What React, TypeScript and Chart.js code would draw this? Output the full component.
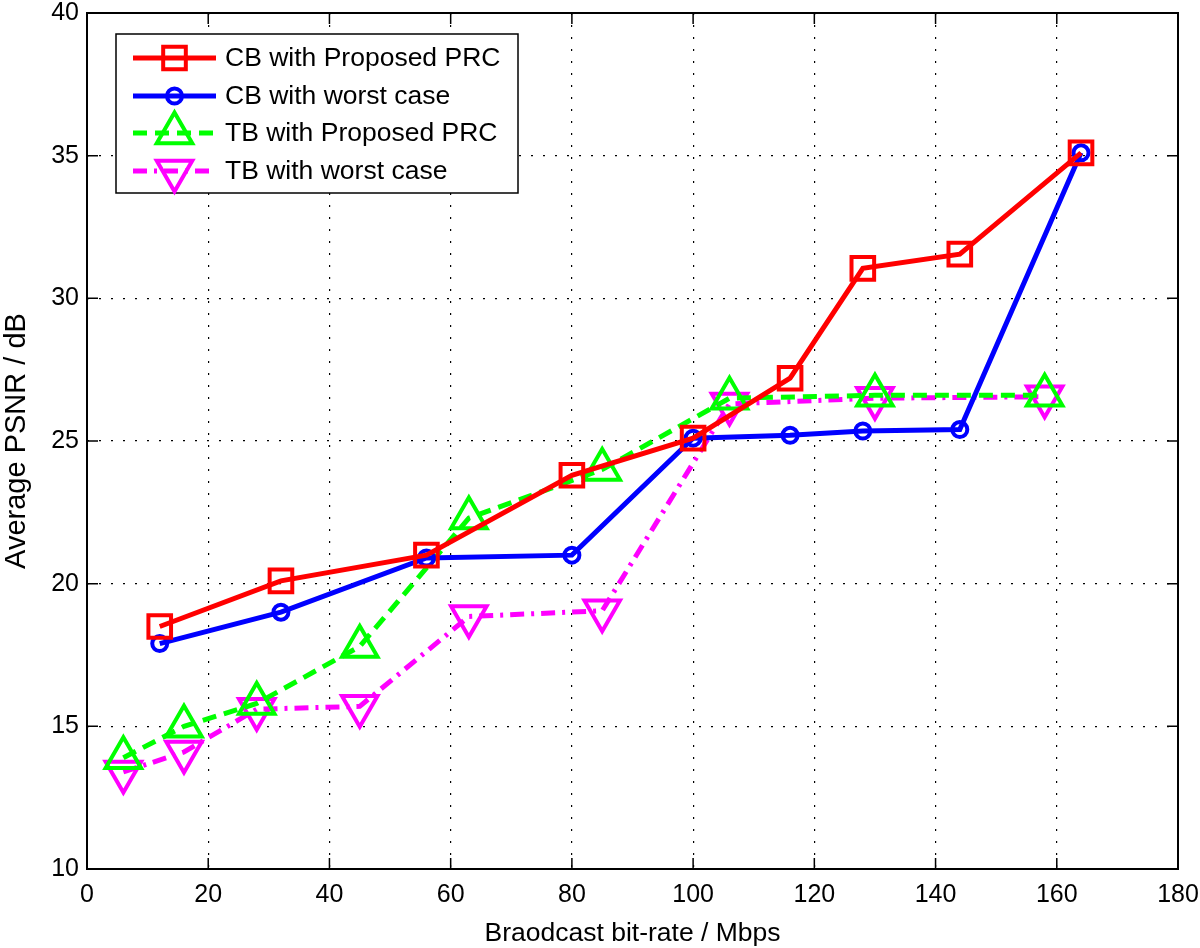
import React, { useEffect, useRef } from "react";
import { Chart, registerables } from "chart.js";

Chart.register(...registerables);

// ---- data ----
const cbProposedX = [12, 32, 56, 80, 100, 116, 128, 144, 164];
const cbProposedY = [18.5, 20.1, 21.0, 23.8, 25.1, 27.2, 31.05, 31.55, 35.1];
const cbWorstX = [12, 32, 56, 80, 100, 116, 128, 144, 164];
const cbWorstY = [17.9, 19.0, 20.9, 21.0, 25.1, 25.2, 25.35, 25.4, 35.1];
const tbProposedX = [6, 16, 28, 45, 63, 85, 106, 130, 158];
const tbProposedY = [13.9, 15.0, 15.8, 17.8, 22.3, 24.0, 26.5, 26.6, 26.6];
const tbWorstX = [6, 16, 28, 45, 63, 85, 106, 130, 158];
const tbWorstY = [13.4, 14.1, 15.6, 15.7, 18.85, 19.05, 26.3, 26.5, 26.55];

const seriesLabels = [
  "CB with Proposed PRC",
  "CB with worst case",
  "TB with Proposed PRC",
  "TB with worst case",
];
const xTicks = [0, 20, 40, 60, 80, 100, 120, 140, 160, 180];
const yTicks = [10, 15, 20, 25, 30, 35, 40];
const xTitle = "Braodcast bit-rate / Mbps";
const yTitle = "Average PSNR / dB";

const FONT = "'Liberation Sans', Arial, Helvetica, sans-serif";
const TICK_FS = 25;
const LEGEND_FS = 26.5;
const XTITLE_FS = 26.5;
const YTITLE_FS = 29;

const toPoints = (xs: number[], ys: number[]) => xs.map((x, i) => ({ x, y: ys[i] }));

function drawMarker(ctx: CanvasRenderingContext2D, style: string, rotation: number, r: number, x: number, y: number) {
  ctx.beginPath();
  if (style === "rect") {
    const s = r * Math.SQRT1_2;
    ctx.rect(x - s, y - s, 2 * s, 2 * s);
  } else if (style === "circle") {
    ctx.arc(x, y, r, 0, Math.PI * 2);
  } else if (style === "triangle") {
    let rad = (rotation * Math.PI) / 180;
    ctx.moveTo(x + Math.sin(rad) * r, y - Math.cos(rad) * r);
    rad += (2 * Math.PI) / 3;
    ctx.lineTo(x + Math.sin(rad) * r, y - Math.cos(rad) * r);
    rad += (2 * Math.PI) / 3;
    ctx.lineTo(x + Math.sin(rad) * r, y - Math.cos(rad) * r);
    ctx.closePath();
  }
  ctx.stroke();
}

const frameAndLegend = {
  id: "frameAndLegend",
  afterDraw(chart: any) {
    const ctx: CanvasRenderingContext2D = chart.ctx;
    const { left, right, top, bottom } = chart.chartArea;
    const xs = chart.scales.x;
    const ys = chart.scales.y;
    ctx.save();
    ctx.strokeStyle = "#000";
    ctx.lineWidth = 1.5;
    ctx.setLineDash([]);
    const tl = 11;
    ctx.beginPath();
    xTicks.forEach((v) => {
      const px = xs.getPixelForValue(v);
      ctx.moveTo(px, bottom);
      ctx.lineTo(px, bottom - tl);
      ctx.moveTo(px, top);
      ctx.lineTo(px, top + tl);
    });
    yTicks.forEach((v) => {
      const py = ys.getPixelForValue(v);
      ctx.moveTo(left, py);
      ctx.lineTo(left + tl, py);
      ctx.moveTo(right, py);
      ctx.lineTo(right - tl, py);
    });
    ctx.stroke();
    ctx.lineWidth = 2;
    ctx.strokeRect(left, top, right - left, bottom - top);

    // legend
    const bx = 116, by = 34, bw = 402, bh = 159;
    ctx.fillStyle = "#fff";
    ctx.fillRect(bx, by, bw, bh);
    ctx.lineWidth = 1.5;
    ctx.strokeStyle = "#000";
    ctx.strokeRect(bx, by, bw, bh);
    const rows = [58, 96, 133, 171];
    chart.data.datasets.forEach((ds: any, i: number) => {
      const y = rows[i];
      ctx.strokeStyle = ds.borderColor;
      ctx.lineWidth = ds.borderWidth;
      ctx.setLineDash(ds.borderDash || []);
      ctx.beginPath();
      ctx.moveTo(133, y);
      ctx.lineTo(216, y);
      ctx.stroke();
      ctx.setLineDash([]);
      ctx.lineWidth = ds.pointBorderWidth;
      drawMarker(ctx, ds.pointStyle, ds.pointRotation || 0, ds.pointRadius, 174.5, y);
      ctx.fillStyle = "#000";
      ctx.font = `${LEGEND_FS}px ${FONT}`;
      ctx.textAlign = "left";
      ctx.textBaseline = "middle";
      ctx.fillText(ds.label, 225, y + 1);
    });
    ctx.restore();
  },
};

export default function App() {
  const ref = useRef<HTMLCanvasElement | null>(null);
  useEffect(() => {
    document.body.style.margin = "0";
    const canvas = ref.current;
    if (!canvas) return;
    const chart = new Chart(canvas, {
      type: "line",
      data: {
        datasets: [
          {
            label: seriesLabels[0],
            data: toPoints(cbProposedX, cbProposedY),
            borderColor: "#ff0000",
            borderWidth: 5,
            pointStyle: "rect",
            pointRadius: 16,
            pointBorderWidth: 4,
            pointBorderColor: "#ff0000",
            pointBackgroundColor: "rgba(0,0,0,0)",
            fill: false,
          },
          {
            label: seriesLabels[1],
            data: toPoints(cbWorstX, cbWorstY),
            borderColor: "#0000ff",
            borderWidth: 5,
            pointStyle: "circle",
            pointRadius: 7.5,
            pointBorderWidth: 4,
            pointBorderColor: "#0000ff",
            pointBackgroundColor: "rgba(0,0,0,0)",
            fill: false,
          },
          {
            label: seriesLabels[2],
            data: toPoints(tbProposedX, tbProposedY),
            borderColor: "#00ff00",
            borderWidth: 5,
            borderDash: [14, 8],
            pointStyle: "triangle",
            pointRadius: 20.5,
            pointBorderWidth: 4,
            pointBorderColor: "#00ff00",
            pointBackgroundColor: "rgba(0,0,0,0)",
            fill: false,
          },
          {
            label: seriesLabels[3],
            data: toPoints(tbWorstX, tbWorstY),
            borderColor: "#ff00ff",
            borderWidth: 5,
            borderDash: [14, 7, 3, 7],
            pointStyle: "triangle",
            pointRotation: 180,
            pointRadius: 20.5,
            pointBorderWidth: 4,
            pointBorderColor: "#ff00ff",
            pointBackgroundColor: "rgba(0,0,0,0)",
            fill: false,
          },
        ],
      },
      options: {
        responsive: false,
        animation: false,
        events: [],
        layout: { autoPadding: false, padding: { top: 13, right: 22, left: 0, bottom: 0 } },
        plugins: { legend: { display: false }, tooltip: { enabled: false } },
        scales: {
          x: {
            type: "linear",
            min: 0,
            max: 180,
            afterBuildTicks: (s: any) => {
              s.ticks = xTicks.map((v) => ({ value: v }));
            },
            afterFit: (s: any) => {
              s.height = 79;
              s.paddingLeft = 0;
              s.paddingRight = 0;
            },
            ticks: {
              color: "#000",
              font: { family: FONT, size: TICK_FS },
              padding: 11,
              maxRotation: 0,
              autoSkip: false,
            },
            grid: { color: "#000", lineWidth: 1.2, drawTicks: false },
            border: { display: false, dash: [2, 10] },
            title: {
              display: true,
              text: xTitle,
              color: "#000",
              font: { family: FONT, size: XTITLE_FS },
              padding: { top: 0, bottom: -2 },
            },
          },
          y: {
            type: "linear",
            min: 10,
            max: 40,
            afterBuildTicks: (s: any) => {
              s.ticks = yTicks.map((v) => ({ value: v }));
            },
            afterFit: (s: any) => {
              s.width = 87;
              s.paddingTop = 0;
              s.paddingBottom = 0;
            },
            ticks: {
              color: "#000",
              font: { family: FONT, size: TICK_FS },
              padding: 8,
              autoSkip: false,
            },
            grid: { color: "#000", lineWidth: 1.2, drawTicks: false },
            border: { display: false, dash: [2, 10] },
            title: {
              display: true,
              text: yTitle,
              color: "#000",
              font: { family: FONT, size: YTITLE_FS },
              padding: { top: 0, bottom: 0 },
            },
          },
        },
      },
      plugins: [frameAndLegend],
    } as any);
    return () => chart.destroy();
  }, []);
  return (
    <div style={{ position: "absolute", left: 0, top: 0, width: 1200, height: 948, background: "#fff" }}>
      <canvas ref={ref} width={1200} height={948} style={{ width: 1200, height: 948 }} />
    </div>
  );
}
